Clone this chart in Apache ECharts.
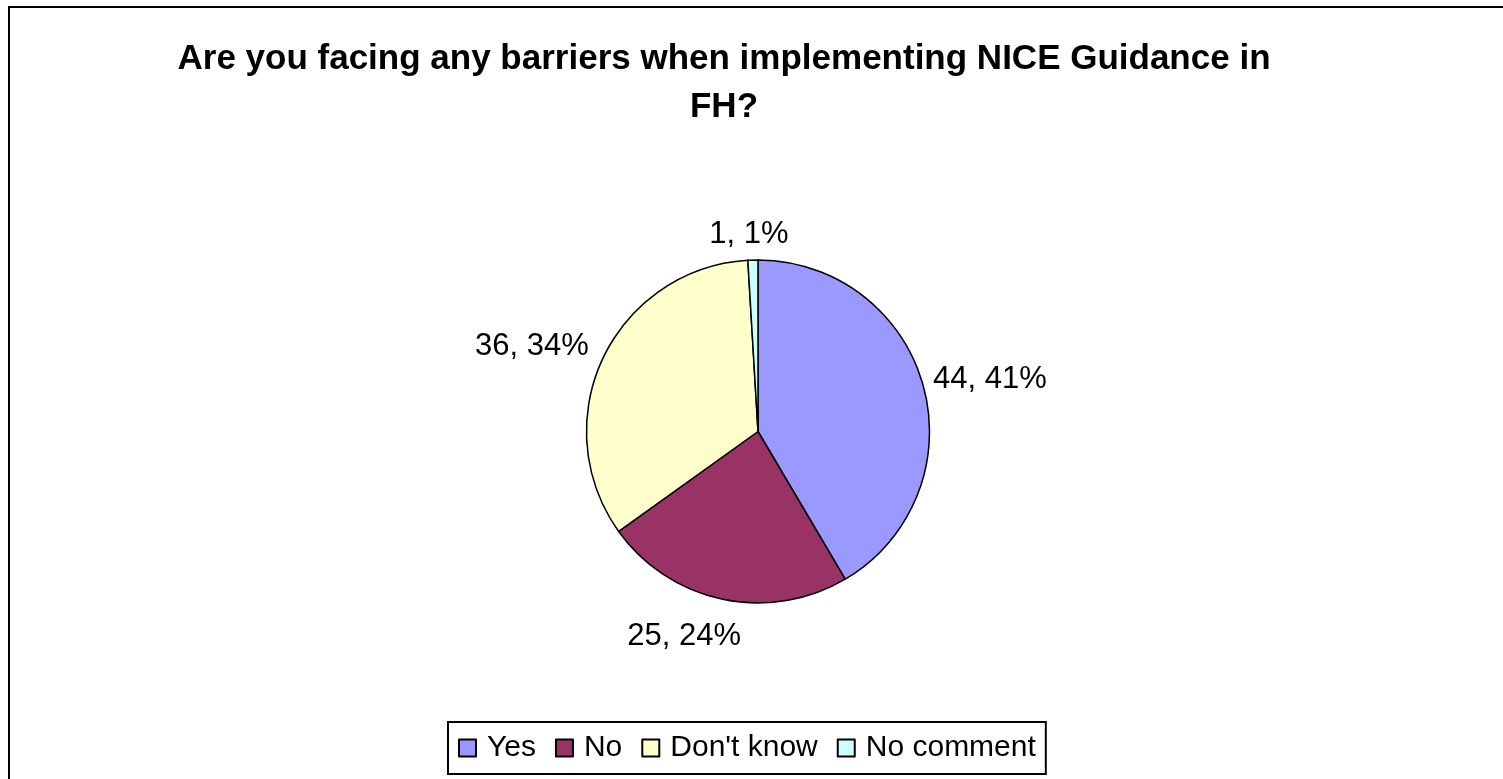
<!DOCTYPE html>
<html>
<head>
<meta charset="utf-8">
<script src="https://cdn.jsdelivr.net/npm/echarts@6/dist/echarts.min.js"></script>
<style>
html,body{margin:0;padding:0;background:#fff;}
#c{width:1503px;height:779px;}
</style>
</head>
<body>
<div id="c"></div>
<script>
const titleText = 'Are you facing any barriers when implementing NICE Guidance in\nFH?';
const categories = ['Yes', 'No', "Don't know", 'No comment'];
const values = [44, 25, 36, 1];
const colors = ['#9999FF', '#993366', '#FFFFCC', '#CCFFFF'];

const CX = 758, CY = 431.5, R = 171.5;
const chart = echarts.init(document.getElementById('c'), null, {renderer: 'canvas'});
const font = '"Liberation Sans", Arial, sans-serif';
const clamp = (v) => Math.max(-1, Math.min(1, v));

chart.setOption({
  backgroundColor: '#fff',
  animation: false,
  color: colors,
  textStyle: {fontFamily: font},
  graphic: [{
    type: 'rect', silent: true, z: -1,
    shape: {x: 9, y: 7, width: 1700, height: 900},
    style: {fill: 'none', stroke: '#000', lineWidth: 2}
  }],
  title: {
    text: titleText,
    left: 724, top: 35, textAlign: 'center', padding: 0,
    textStyle: {fontFamily: font, fontSize: 35, fontWeight: 'bold', color: '#000', lineHeight: 48}
  },
  legend: {
    data: categories,
    left: 448, top: 722,
    orient: 'horizontal',
    icon: 'rect', itemWidth: 17, itemHeight: 17, itemGap: 19,
    padding: [11, 10, 11, 10],
    borderColor: '#000', borderWidth: 2, borderRadius: 0,
    textStyle: {fontFamily: font, fontSize: 30, color: '#000', padding: [0, 0, 0, 6]}
  },
  series: [{
    type: 'pie',
    center: [CX, CY],
    radius: R,
    startAngle: 90,
    clockwise: true,
    avoidLabelOverlap: false,
    percentPrecision: 0,
    itemStyle: {borderColor: '#000', borderWidth: 1.5},
    emphasis: {disabled: true},
    label: {
      show: true, position: 'outside',
      formatter: '{c}, {d}%',
      fontFamily: font, fontSize: 31, color: '#000'
    },
    labelLine: {show: true, length: 10, length2: 1, lineStyle: {opacity: 0, width: 0}},
    labelLayout: function (p) {
      const pts = p.labelLinePoints;
      if (!pts) return {};
      const dx = pts[0][0] - CX, dy = pts[0][1] - CY;
      const len = Math.hypot(dx, dy) || 1;
      const ux = dx / len, uy = dy / len;
      const w = p.labelRect.width, h = p.labelRect.height;
      const gapX = ux < 0 ? 16 : 10;
      const gapY = uy > 0 ? 22 : 10;
      return {
        x: pts[0][0] + ux * gapX + clamp(3 * ux) * w / 2,
        y: pts[0][1] + uy * gapY + uy * h / 2,
        align: 'center', verticalAlign: 'middle'
      };
    },
    data: categories.map((n, i) => ({name: n, value: values[i]}))
  }]
});
</script>
</body>
</html>
